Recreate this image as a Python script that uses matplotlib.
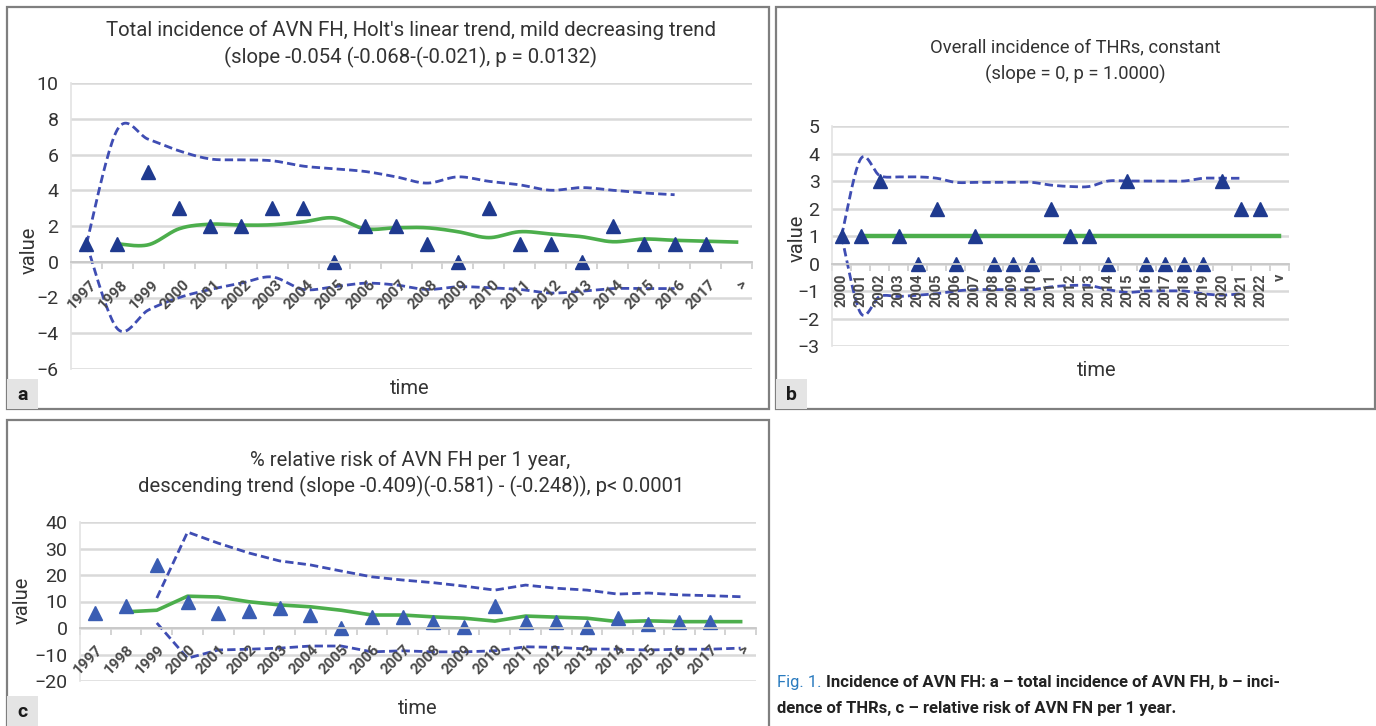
import numpy as np
import matplotlib
matplotlib.use('Agg')
import matplotlib.pyplot as plt
from matplotlib.patches import Rectangle

plt.rcParams['font.family'] = ['Roboto', 'DejaVu Sans']

W, H = 1376, 726

# ---- panel a: total incidence of AVN FH ----
a_labels = ['1997', '1998', '1999', '2000', '2001', '2002', '2003', '2004', '2005', '2006', '2007',
            '2008', '2009', '2010', '2011', '2012', '2013', '2014', '2015', '2016', '2017', '>']
a_obs = [1, 1, 5, 3, 2, 2, 3, 3, 0, 2, 2, 1, 0, 3, 1, 1, 0, 2, 1, 1, 1]
a_fit = [1.0, 0.95, 1.85, 2.1, 2.05, 2.07, 2.23, 2.45, 1.84, 1.9, 1.9, 1.68, 1.35, 1.68, 1.55,
         1.4, 1.12, 1.27, 1.2, 1.15, 1.1]            # from 1998
a_upper = [1.0, 7.4, 6.85, 6.2, 5.75, 5.7, 5.65, 5.35, 5.2, 5.05, 4.75, 4.4, 4.75, 4.5, 4.3,
           4.0, 4.15, 4.0, 3.85, 3.75]                # 1997-2016
a_lower = [1.0, -3.75, -2.7, -2.0, -1.55, -1.2, -0.85, -1.55, -1.4, -1.2, -1.3, -1.55, -1.4,
           -1.45, -1.55, -1.75, -1.65, -1.5, -1.5, -1.5]

# ---- panel b: incidence of THRs ----
b_labels = ['2000', '2001', '2002', '2003', '2004', '2005', '2006', '2007', '2008', '2009', '2010',
            '2011', '2012', '2013', '2014', '2015', '2016', '2017', '2018', '2019', '2020', '2021',
            '2022', 'v']
b_obs = [1, 1, 3, 1, 0, 2, 0, 1, 0, 0, 0, 2, 1, 1, 0, 3, 0, 0, 0, 0, 3, 2, 2]
b_fit = [1, 1, 1, 1, 1, 1, 1, 1, 1, 1, 1, 1, 1, 1, 1, 1, 1, 1, 1, 1, 1, 1, 1]   # from 2001
b_upper = [1.0, 3.8, 3.2, 3.15, 3.15, 3.1, 2.95, 2.95, 2.95, 2.95, 2.95, 2.85, 2.8, 2.8, 3.0,
           3.0, 3.0, 3.0, 3.0, 3.1, 3.1, 3.1]         # 2000-2021
b_lower = [1.0, -1.8, -1.2, -1.2, -1.15, -1.1, -1.0, -0.95, -0.95, -0.95, -0.95, -0.85, -0.8,
           -0.8, -0.95, -1.05, -1.0, -1.0, -1.0, -1.1, -1.15, -1.1]

# ---- panel c: % relative risk per year ----
c_labels = a_labels
c_obs = [5.8, 8.3, 23.8, 9.8, 5.7, 6.5, 7.5, 4.9, 0, 4.3, 4.2, 2.1, 0.2, 8.3, 2.4, 2.4, 0.2,
         3.7, 1.6, 2.1, 2.1]
c_fit = [6.1, 6.7, 12.0, 11.7, 9.9, 8.7, 8.0, 6.7, 4.9, 4.9, 4.2, 3.7, 2.6, 4.5, 4.1, 3.7,
         2.4, 2.7, 2.4, 2.4, 2.4]                     # from 1998
c_upper = [11.3, 36.2, 32.0, 28.3, 25.3, 23.8, 21.5, 19.3, 18.1, 17.1, 15.8, 14.3, 16.2, 15.0,
           14.3, 12.8, 13.2, 12.5, 12.2, 11.8]        # from 1999
c_lower = [1.9, -11.4, -8.3, -8.0, -7.6, -6.8, -6.8, -9.0, -8.6, -9.0, -9.0, -8.6, -7.1, -7.3,
           -7.9, -8.0, -8.3, -8.0, -8.0, -7.6]

NAVY = '#1f3a8f'
DASH = '#3f4db3'
GREEN = '#4cae4c'
GRID = '#d9d9d9'
TXT = '#333333'
DASHES = (0, (3, 1.5))


def smooth(x, y, n=24):
    # Catmull-Rom curve through the points (Excel-like "smoothed line")
    x = np.asarray(x, float)
    y = np.asarray(y, float)
    px = np.r_[x[0], x, x[-1]]
    py = np.r_[y[0], y, y[-1]]
    t = np.linspace(0, 1, n, endpoint=False)
    xs, ys = [], []
    for i in range(1, len(x)):
        for p, out in ((px, xs), (py, ys)):
            p0, p1, p2, p3 = p[i - 1], p[i], p[i + 1], p[i + 2]
            out.extend(0.5 * (2 * p1 + (-p0 + p2) * t + (2 * p0 - 5 * p1 + 4 * p2 - p3) * t ** 2
                              + (-p0 + 3 * p1 - 3 * p2 + p3) * t ** 3))
    xs.append(x[-1])
    ys.append(y[-1])
    return xs, ys


def px_axes(fig, left, top, right, bottom):
    return fig.add_axes([left / W, 1 - bottom / H, (right - left) / W, (bottom - top) / H])


def style_axes(ax, labels, ylim, ystep, rot, lab_off, lab_size):
    n = len(labels)
    ax.set_xlim(-0.5, n - 0.5)
    ax.set_ylim(*ylim)
    ax.set_yticks(np.arange(ylim[0], ylim[1] + ystep / 2, ystep))
    for s in ('top', 'right'):
        ax.spines[s].set_visible(False)
    ax.spines['left'].set_color('#e3e3e3')
    ax.spines['left'].set_linewidth(1.2)
    ax.spines['bottom'].set_position(('data', 0))
    ax.spines['bottom'].set_color('#c8c8c8')
    ax.spines['bottom'].set_linewidth(1.3)
    ax.set_xticks(np.arange(-0.5, n, 1.0))
    ax.set_xticklabels([])
    ax.tick_params(axis='x', length=5, width=1.1, color='#c8c8c8', direction='out')
    ax.tick_params(axis='y', length=0, pad=9, labelsize=14, labelcolor=TXT)
    ax.set_axisbelow(True)
    ax.yaxis.grid(True, color=GRID, lw=1.8)
    for i, lab in enumerate(labels):
        ax.annotate(lab, xy=(i, 0), xytext=lab_off, textcoords='offset points',
                    rotation=rot, rotation_mode='anchor', ha='right', va='center',
                    fontsize=lab_size, fontweight='bold', color='#4a4a4a')


def ftext(x, y, s, **kw):
    fig.text(x / W, 1 - y / H, s, **kw)


fig = plt.figure(figsize=(W / 100, H / 100), dpi=100)

# panel frames and letter boxes
for (l, t, r, b), letter in (((7, 7, 769, 409), 'a'), ((776, 7, 1375, 409), 'b'),
                             ((7, 420, 769, 740), 'c')):
    fig.patches.append(Rectangle((l / W, 1 - b / H), (r - l) / W, (b - t) / H,
                                 transform=fig.transFigure, fill=False,
                                 edgecolor='#7f7f7f', lw=1.6))
    lb = min(b, 726)
    fig.patches.append(Rectangle((l / W, 1 - lb / H), 31 / W, 30 / H,
                                 transform=fig.transFigure, facecolor='#e4e4e4',
                                 edgecolor='none'))
    ftext(l + 15.5, lb - 14, letter, fontsize=14, fontweight='bold', ha='center',
          va='center', color='#1a1a1a')

# ---- panel a ----
ax = px_axes(fig, 71, 83, 752, 369)
style_axes(ax, a_labels, (-6, 10), 2, 45, (6, -15), 11)
xa = np.arange(len(a_labels))
ax.plot(*smooth(xa[:len(a_upper)], a_upper), color=DASH, lw=2, ls=DASHES)
ax.plot(*smooth(xa[:len(a_lower)], a_lower), color=DASH, lw=2, ls=DASHES)
ax.plot(*smooth(xa[1:1 + len(a_fit)], a_fit), color=GREEN, lw=2.6)
ax.plot(xa[:len(a_obs)], a_obs, ls='none', marker='^', ms=10, color=NAVY)
ftext(411, 30, "Total incidence of AVN FH, Holt's linear trend, mild decreasing trend",
      fontsize=14.7, ha='center', va='center', color=TXT)
ftext(411, 57, "(slope -0.054 (-0.068-(-0.021), p = 0.0132)",
      fontsize=14.7, ha='center', va='center', color=TXT)
ftext(410, 389, 'time', fontsize=14.5, ha='center', va='center', color=TXT)
ftext(29, 250, 'value', fontsize=14.5, ha='center', va='center', rotation=90, color=TXT)

# ---- panel b ----
ax = px_axes(fig, 832, 126, 1289, 346)
style_axes(ax, b_labels, (-3, 5), 1, 90, (0, -7), 10.5)
xb = np.arange(len(b_labels))
ax.plot(*smooth(xb[:len(b_upper)], b_upper), color=DASH, lw=2, ls=DASHES)
ax.plot(*smooth(xb[:len(b_lower)], b_lower), color=DASH, lw=2, ls=DASHES)
ax.plot(xb[1:1 + len(b_fit)], b_fit, color=GREEN, lw=3.2)
ax.plot(xb[:len(b_obs)], b_obs, ls='none', marker='^', ms=10, color=NAVY)
ftext(1075, 47, 'Overall incidence of THRs, constant', fontsize=13.2, ha='center',
      va='center', color=TXT)
ftext(1075, 74, '(slope = 0, p = 1.0000)', fontsize=13.2, ha='center', va='center', color=TXT)
ftext(1097, 371, 'time', fontsize=14.5, ha='center', va='center', color=TXT)
ftext(797, 238, 'value', fontsize=14.5, ha='center', va='center', rotation=90, color=TXT)

# ---- panel c ----
ax = px_axes(fig, 80, 522, 756, 681)
style_axes(ax, c_labels, (-20, 40), 10, 45, (4, -14), 11)
xc = np.arange(len(c_labels))
ax.plot(xc[2:2 + len(c_upper)], c_upper, color=DASH, lw=2, ls=DASHES)
ax.plot(xc[2:2 + len(c_lower)], c_lower, color=DASH, lw=2, ls=DASHES)
ax.plot(xc[1:1 + len(c_fit)], c_fit, color=GREEN, lw=2.6)
ax.plot(xc[:len(c_obs)], c_obs, ls='none', marker='^', ms=10, color='#3a5db3')
ftext(410, 460, '% relative risk of AVN FH per 1 year,', fontsize=14.6, ha='center',
      va='center', color=TXT)
ftext(411, 486, 'descending trend (slope -0.409)(-0.581) - (-0.248)), p< 0.0001',
      fontsize=14.6, ha='center', va='center', color=TXT)
ftext(418, 709, 'time', fontsize=14.5, ha='center', va='center', color=TXT)
ftext(22, 600, 'value', fontsize=14.5, ha='center', va='center', rotation=90, color=TXT)

# ---- caption ----
ftext(777, 683, 'Fig. 1.', fontsize=12, color='#2a7bbf', va='center')
ftext(826, 683, 'Incidence of AVN FH: a \u2013 total incidence of AVN FH, b \u2013 inci-',
      fontsize=12, fontweight='bold', color='#222222', va='center')
ftext(777, 708, 'dence of THRs, c \u2013 relative risk of AVN FN per 1 year.',
      fontsize=12, fontweight='bold', color='#222222', va='center')

fig.savefig('out.png', dpi=100)
